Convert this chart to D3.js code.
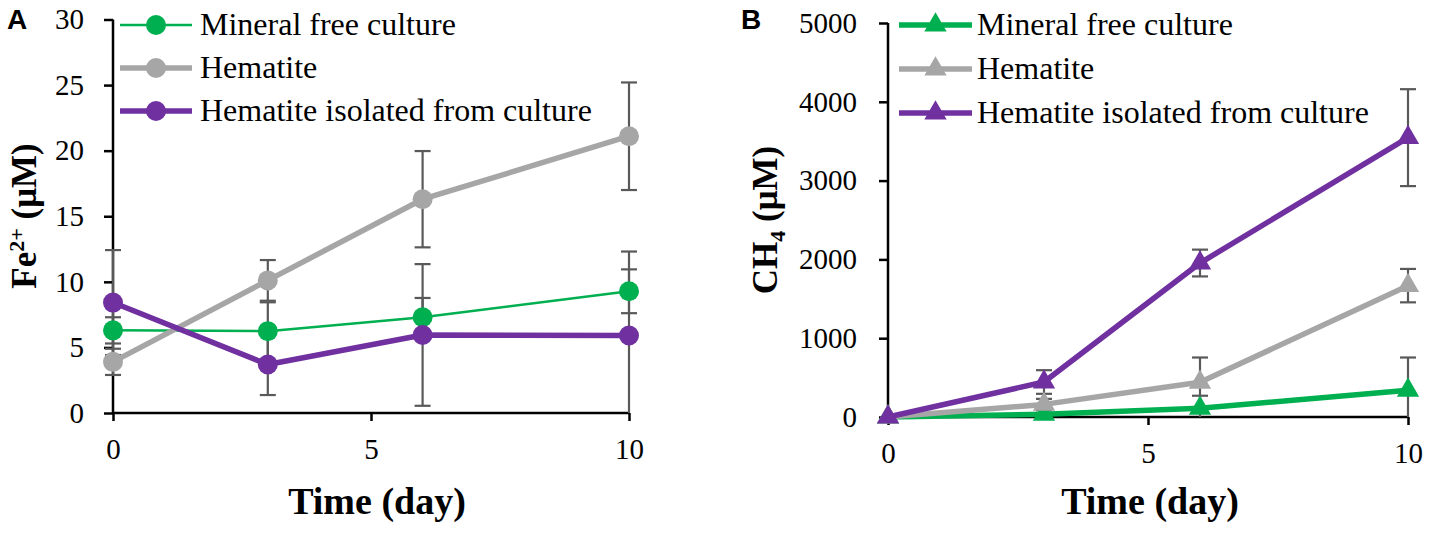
<!DOCTYPE html>
<html><head><meta charset="utf-8">
<script src="https://cdn.jsdelivr.net/npm/d3@7"></script>
</head>
<body style="margin:0;background:#fff"><svg id="c" width="1429" height="533"></svg>
<script>
// ---- data ----
const days = [0, 3, 6, 10];
const seriesNames = ["Mineral free culture", "Hematite", "Hematite isolated from culture"];
const seriesColors = ["#00b050", "#a6a6a6", "#7030a0"];

// Panel A: Fe2+ (µM)
const feMineralFree = [6.3, 6.24, 7.3, 9.28];
const feMineralFreeErr = [1.0, 2.2, 1.47, 1.67];
const feHematite = [3.9, 10.11, 16.3, 21.1];
const feHematiteErr = [1.0, 1.55, 3.67, 4.1];
const feIsolated = [8.42, 3.7, 5.95, 5.91];
const feIsolatedErr = [4.0, 2.33, 5.4, 6.4];
const feTicks = [0, 5, 10, 15, 20, 25, 30];

// Panel B: CH4 (µM)
const chMineralFree = [0, 34, 110, 340];
const chMineralFreeErr = [0, 20, 160, 415];
const chHematite = [0, 160, 440, 1667];
const chHematiteErr = [0, 70, 315, 212];
const chIsolated = [0, 444, 1954, 3545];
const chIsolatedErr = [0, 150, 170, 615];
const chTicks = [0, 1000, 2000, 3000, 4000, 5000];
const dayTicks = [0, 5, 10];

const SERIF = "Liberation Serif";
const svg = d3.select("#c");
const errColor = "#595959";

function panel(cfg) {
  const x = d3.scaleLinear().domain([0, 10]).range(cfg.xr);
  const y = d3.scaleLinear().domain(cfg.yd).range(cfg.yr);
  const g = svg.append("g");

  const ya = g.append("g").attr("transform", `translate(${cfg.xr[0]},0)`)
    .call(d3.axisLeft(y).tickValues(cfg.yTicks).tickSize(9).tickPadding(cfg.yPad).tickFormat(d3.format("d")));
  const xa = g.append("g").attr("transform", `translate(0,${cfg.yr[0]})`)
    .call(d3.axisBottom(x).tickValues(dayTicks).tickSize(8).tickPadding(17).tickFormat(d3.format("d")));
  [ya, xa].forEach(a => {
    a.attr("font-family", SERIF).attr("font-size", 29);
    a.select(".domain").attr("stroke", "#000").attr("stroke-width", 2.5);
    a.selectAll(".tick line").attr("stroke", "#000").attr("stroke-width", 2.5);
    a.selectAll(".tick text").attr("fill", "#000");
  });
  ya.select(".domain").attr("d", `M0,${cfg.yr[0]}V${cfg.yr[1]}`);
  xa.select(".domain").attr("d", `M${cfg.xr[0]},0H${cfg.xr[1]}`);

  // error bars (clipped at the bottom of the plot, like the original)
  const yMin = cfg.yd[0];
  cfg.series.forEach((s) => {
    const eg = g.append("g");
    days.forEach((d, i) => {
      const e = s.err[i];
      if (!e) return;
      const cx = x(d), hi = s.vals[i] + e, lo = s.vals[i] - e;
      const y1 = y(hi), y0 = y(Math.max(lo, yMin));
      eg.append("line").attr("x1", cx).attr("x2", cx).attr("y1", y1).attr("y2", y0)
        .attr("stroke", errColor).attr("stroke-width", 2.2);
      const caps = lo >= yMin ? [y1, y0] : [y1];
      caps.forEach(yy => eg.append("line").attr("x1", cx - 8).attr("x2", cx + 8)
        .attr("y1", yy).attr("y2", yy).attr("stroke", errColor).attr("stroke-width", 2.2));
    });
  });

  cfg.series.forEach((s) => {
    const pts = days.map((d, i) => [x(d), y(s.vals[i])]);
    g.append("path").attr("d", d3.line()(pts)).attr("fill", "none")
      .attr("stroke", s.color).attr("stroke-width", s.lw).attr("stroke-linejoin", "round");
    pts.forEach(p => marker(g, cfg.marker, p[0], p[1], s.color));
  });

  // legend
  cfg.series.forEach((s, i) => {
    const ly = cfg.legY[i];
    g.append("line").attr("x1", cfg.legX[0]).attr("x2", cfg.legX[1]).attr("y1", ly).attr("y2", ly)
      .attr("stroke", s.color).attr("stroke-width", s.lw);
    marker(g, cfg.marker, (cfg.legX[0] + cfg.legX[1]) / 2, ly, s.color);
    g.append("text").attr("x", cfg.legTextX).attr("y", ly + 10)
      .attr("font-family", SERIF).attr("font-size", 32).text(s.name);
  });

  // axis titles
  g.append("text").attr("x", cfg.xtx).attr("y", 514).attr("text-anchor", "middle")
    .attr("font-family", SERIF).attr("font-size", 38).attr("font-weight", "bold").text("Time (day)");
  const yt = g.append("text").attr("transform", `translate(${cfg.ytx},${cfg.yty}) rotate(-90)`)
    .attr("text-anchor", "middle").attr("font-family", SERIF).attr("font-size", 35).attr("font-weight", "bold");
  cfg.yTitle(yt);

  // panel letter
  g.append("text").attr("x", cfg.letterX).attr("y", 29).attr("font-family", "Liberation Sans")
    .attr("font-size", 28).attr("font-weight", "bold").text(cfg.letter);
}

function marker(g, type, cx, cy, color) {
  if (type === "circle") {
    g.append("circle").attr("cx", cx).attr("cy", cy).attr("r", 10).attr("fill", color);
  } else {
    g.append("path").attr("d", d3.symbol().type(d3.symbolTriangle).size(215)())
      .attr("transform", `translate(${cx},${cy})`).attr("fill", color);
  }
}

panel({
  letter: "A", letterX: 7,
  xr: [113, 629], yd: [0, 30], yr: [413, 19.5], yTicks: feTicks, yPad: 20,
  marker: "circle", legX: [120, 192], legTextX: 200, legY: [25, 68, 111],
  xtx: 377, ytx: 36, yty: 216,
  yTitle: t => { t.append("tspan").text("Fe"); t.append("tspan").attr("dy", -12).attr("font-size", 22).text("2+");
                 t.append("tspan").attr("dy", 12).text(" (μM)"); },
  series: [
    { name: seriesNames[0], color: seriesColors[0], vals: feMineralFree, err: feMineralFreeErr, lw: 2.5 },
    { name: seriesNames[1], color: seriesColors[1], vals: feHematite, err: feHematiteErr, lw: 5.5 },
    { name: seriesNames[2], color: seriesColors[2], vals: feIsolated, err: feIsolatedErr, lw: 5.5 }
  ]
});

panel({
  letter: "B", letterX: 741,
  xr: [888, 1408], yd: [0, 5000], yr: [417, 23], yTicks: chTicks, yPad: 22,
  marker: "triangle", legX: [899, 972], legTextX: 977, legY: [25, 69, 113],
  xtx: 1150, ytx: 777, yty: 220,
  yTitle: t => { t.append("tspan").text("CH"); t.append("tspan").attr("dy", 8).attr("font-size", 22).text("4");
                 t.append("tspan").attr("dy", -8).text(" (μM)"); },
  series: [
    { name: seriesNames[0], color: seriesColors[0], vals: chMineralFree, err: chMineralFreeErr, lw: 5.5 },
    { name: seriesNames[1], color: seriesColors[1], vals: chHematite, err: chHematiteErr, lw: 5.5 },
    { name: seriesNames[2], color: seriesColors[2], vals: chIsolated, err: chIsolatedErr, lw: 5.5 }
  ]
});
</script></body></html>
